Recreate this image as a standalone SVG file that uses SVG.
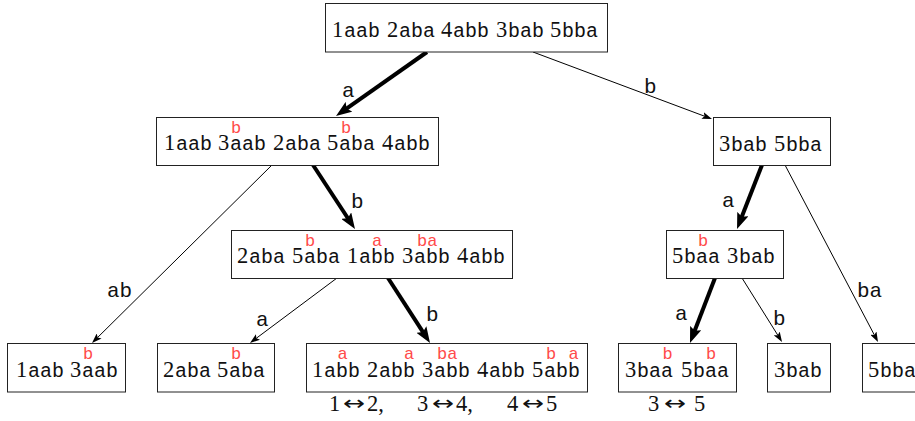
<svg xmlns="http://www.w3.org/2000/svg" width="915" height="421" viewBox="0 0 915 421">
<style>
.box{fill:#fff;stroke:#222;stroke-width:1}
.d{font-family:"Liberation Serif","DejaVu Serif",serif;font-size:22.5px;fill:#111}
.arw{font-family:"DejaVu Sans","Liberation Sans",sans-serif;font-size:20px;fill:#111}
.m{font-family:"Liberation Mono","DejaVu Sans Mono",monospace;font-size:20px;fill:#111}
.r{font-family:"Liberation Mono","DejaVu Sans Mono",monospace;font-size:17px;fill:#ff4a4a}
.lbl{font-family:"Liberation Mono","DejaVu Sans Mono",monospace;font-size:21px;fill:#111}
.thin{stroke:#000;stroke-width:1;fill:none;marker-end:url(#ah)}
.thick{stroke:#000;stroke-width:4;fill:none;marker-end:url(#AH)}
</style>
<defs>
<marker id="ah" viewBox="0 0 10 7" markerWidth="10" markerHeight="7" refX="2" refY="3.5" orient="auto" markerUnits="userSpaceOnUse"><path d="M0,0 L10,3.5 L0,7 L2,3.5 z" fill="#000"/></marker>
<marker id="AH" viewBox="0 0 16 12" markerWidth="16" markerHeight="12" refX="4" refY="6" orient="auto" markerUnits="userSpaceOnUse"><path d="M0,0 L16,6 L0,12 L3,6 z" fill="#000"/></marker>
</defs>
<g id="connectors">
<line class="thick" x1="427" y1="52" x2="345.8" y2="109.1"/>
<line class="thin" x1="533" y1="52" x2="704.5" y2="116.2"/>
<line class="thick" x1="313" y1="165" x2="348.4" y2="219"/>
<line class="thin" x1="272" y1="165" x2="97.7" y2="337.4"/>
<line class="thin" x1="337" y1="278" x2="256.4" y2="338.2"/>
<line class="thick" x1="388" y1="278" x2="423.5" y2="332.9"/>
<line class="thick" x1="762" y1="165" x2="741.4" y2="217.8"/>
<line class="thin" x1="785" y1="165" x2="874.3" y2="334.9"/>
<line class="thick" x1="715" y1="278" x2="694.3" y2="331.8"/>
<line class="thin" x1="742" y1="278" x2="777.8" y2="335.2"/>
<text class="lbl" x="342" y="97">a</text>
<text class="lbl" x="644" y="93">b</text>
<text class="lbl" x="351" y="208">b</text>
<text class="lbl" x="107" y="297">ab</text>
<text class="lbl" x="256" y="326">a</text>
<text class="lbl" x="426" y="321">b</text>
<text class="lbl" x="722" y="207">a</text>
<text class="lbl" x="857" y="297">ba</text>
<text class="lbl" x="675" y="320">a</text>
<text class="lbl" x="773" y="325">b</text>
</g>
<g id="n-root">
<rect class="box" x="325.5" y="3.5" width="282" height="48.5"/>
<text y="37"><tspan class="d" x="332">1</tspan><tspan class="m" x="344">aab</tspan><tspan class="d" x="387">2</tspan><tspan class="m" x="399">aba</tspan><tspan class="d" x="441">4</tspan><tspan class="m" x="453">abb</tspan><tspan class="d" x="496">3</tspan><tspan class="m" x="508">bab</tspan><tspan class="d" x="550">5</tspan><tspan class="m" x="562">bba</tspan></text>
</g>
<g id="n-a">
<rect class="box" x="156.5" y="117.5" width="282" height="48"/>
<text class="r" x="231" y="133">b</text>
<text class="r" x="341" y="133">b</text>
<text y="150"><tspan class="d" x="164">1</tspan><tspan class="m" x="176">aab</tspan><tspan class="d" x="218">3</tspan><tspan class="m" x="230">aab</tspan><tspan class="d" x="273">2</tspan><tspan class="m" x="285">aba</tspan><tspan class="d" x="327">5</tspan><tspan class="m" x="339">aba</tspan><tspan class="d" x="382">4</tspan><tspan class="m" x="394">abb</tspan></text>
</g>
<g id="n-b">
<rect class="box" x="713.5" y="117.5" width="117" height="48"/>
<text y="151"><tspan class="d" x="719">3</tspan><tspan class="m" x="731">bab</tspan><tspan class="d" x="774">5</tspan><tspan class="m" x="786">bba</tspan></text>
</g>
<g id="n-ab">
<rect class="box" x="231.5" y="230.5" width="281" height="48"/>
<text class="r" x="305" y="246">b</text>
<text class="r" x="372" y="246">a</text>
<text class="r" x="417" y="246">ba</text>
<text y="263"><tspan class="d" x="237">2</tspan><tspan class="m" x="249">aba</tspan><tspan class="d" x="292">5</tspan><tspan class="m" x="304">aba</tspan><tspan class="d" x="347">1</tspan><tspan class="m" x="359">abb</tspan><tspan class="d" x="402">3</tspan><tspan class="m" x="414">abb</tspan><tspan class="d" x="457">4</tspan><tspan class="m" x="469">abb</tspan></text>
</g>
<g id="n-ba">
<rect class="box" x="666.5" y="230.5" width="117" height="48"/>
<text class="r" x="698" y="246">b</text>
<text y="263"><tspan class="d" x="672">5</tspan><tspan class="m" x="684">baa</tspan><tspan class="d" x="727">3</tspan><tspan class="m" x="739">bab</tspan></text>
</g>
<g id="n-aab">
<rect class="box" x="7.5" y="343.5" width="118" height="48.5"/>
<text class="r" x="83" y="359">b</text>
<text y="377"><tspan class="d" x="16">1</tspan><tspan class="m" x="28">aab</tspan><tspan class="d" x="70">3</tspan><tspan class="m" x="82">aab</tspan></text>
</g>
<g id="n-aba">
<rect class="box" x="157.5" y="343.5" width="117" height="48.5"/>
<text class="r" x="231" y="359">b</text>
<text y="377"><tspan class="d" x="163">2</tspan><tspan class="m" x="175">aba</tspan><tspan class="d" x="217">5</tspan><tspan class="m" x="229">aba</tspan></text>
</g>
<g id="n-abb">
<rect class="box" x="306.5" y="343.5" width="281" height="48.5"/>
<text class="r" x="337.5" y="359">a</text>
<text class="r" x="404" y="359">a</text>
<text class="r" x="437" y="359">ba</text>
<text class="r" x="546" y="359">b</text>
<text class="r" x="568.5" y="359">a</text>
<text y="377"><tspan class="d" x="312">1</tspan><tspan class="m" x="324">abb</tspan><tspan class="d" x="367">2</tspan><tspan class="m" x="379">abb</tspan><tspan class="d" x="422">3</tspan><tspan class="m" x="434">abb</tspan><tspan class="d" x="477">4</tspan><tspan class="m" x="489">abb</tspan><tspan class="d" x="532">5</tspan><tspan class="m" x="544">abb</tspan></text>
<text class="d" y="411"><tspan x="329">1</tspan><tspan x="367">2,</tspan><tspan x="417">3</tspan><tspan x="456">4,</tspan><tspan x="507">4</tspan><tspan x="546">5</tspan></text>
<text class="arw" x="343" y="410" textLength="22" lengthAdjust="spacingAndGlyphs">↔</text>
<text class="arw" x="432" y="410" textLength="22" lengthAdjust="spacingAndGlyphs">↔</text>
<text class="arw" x="522" y="410" textLength="22" lengthAdjust="spacingAndGlyphs">↔</text>
</g>
<g id="n-baa">
<rect class="box" x="618.5" y="343.5" width="118" height="48.5"/>
<text class="r" x="662.5" y="359">b</text>
<text class="r" x="706" y="359">b</text>
<text y="377"><tspan class="d" x="625">3</tspan><tspan class="m" x="637">baa</tspan><tspan class="d" x="681">5</tspan><tspan class="m" x="693">baa</tspan></text>
<text class="d" y="411"><tspan x="648">3</tspan><tspan x="694">5</tspan></text>
<text class="arw" x="664" y="410" textLength="22" lengthAdjust="spacingAndGlyphs">↔</text>
</g>
<g id="n-bab">
<rect class="box" x="767.5" y="343.5" width="63" height="48.5"/>
<text y="377"><tspan class="d" x="774">3</tspan><tspan class="m" x="786">bab</tspan></text>
</g>
<g id="n-bba">
<rect class="box" x="862.5" y="343.5" width="63" height="48.5"/>
<text y="377"><tspan class="d" x="868">5</tspan><tspan class="m" x="880">bba</tspan></text>
</g>
</svg>
